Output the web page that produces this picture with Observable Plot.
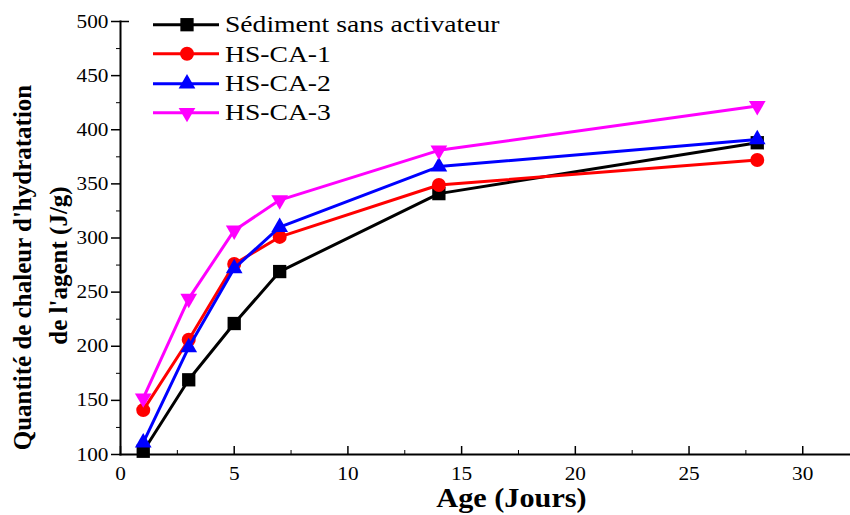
<!DOCTYPE html>
<html>
<head>
<meta charset="utf-8">
<script src="https://cdn.jsdelivr.net/npm/d3@7"></script>
<script src="https://cdn.jsdelivr.net/npm/@observablehq/plot@0.6"></script>
<style>
  body { margin: 0; background: #fff; }
  #wrap { position: relative; width: 850px; height: 515px; font-family: "Liberation Serif", "Times New Roman", Times, "DejaVu Serif", serif; color: #000; }
  #legend { position: absolute; left: 153px; top: 10px; }
  .row { display: flex; align-items: center; height: 29.4px; }
  .row span { font-family: "Liberation Serif", "Times New Roman", Times, "DejaVu Serif", serif; font-weight: normal; font-size: 24px; margin-left: 6px; display: inline-block; transform: scaleX(1.15); transform-origin: left center; white-space: nowrap; }
</style>
</head>
<body>
<div id="wrap"><div id="legend"></div></div>
<script>
// ---- data ----
const ages = [1, 3, 5, 7, 14, 28];
const seriesNames = ["Sédiment sans activateur", "HS-CA-1", "HS-CA-2", "HS-CA-3"];
const sansActivateur = [103, 169, 221, 269, 341, 388];
const hsca1 = [141, 206, 276, 301, 349, 372];
const hsca2 = [111, 199, 272, 310, 366, 391];
const hsca3 = [152, 244, 307, 335, 381, 422];
const xTicks = [0, 5, 10, 15, 20, 25, 30];
const xMinor = [2.5, 7.5, 12.5, 17.5, 22.5, 27.5];
const yTicks = [100, 150, 200, 250, 300, 350, 400, 450, 500];
const yMinor = [125, 175, 225, 275, 325, 375, 425, 475];
const xTitle = "Age (Jours)";
const yTitle1 = "Quantité de chaleur d'hydratation";
const yTitle2 = "de l'agent (J/g)";

// ---- styles ----
const serif = "'Liberation Serif', 'Times New Roman', Times, 'DejaVu Serif', serif";
const colors = ["#000000", "#ff0000", "#0000ff", "#ff00ff"];
const triangleDown = {
  draw(context, size) {
    const y = -Math.sqrt(size / (Math.sqrt(3) * 3));
    context.moveTo(0, -y * 2);
    context.lineTo(-Math.sqrt(3) * y, y);
    context.lineTo(Math.sqrt(3) * y, y);
    context.closePath();
  }
};
const symbols = ["square", "circle", "triangle", triangleDown];
const d3Symbols = [d3.symbolSquare, d3.symbolCircle, d3.symbolTriangle, triangleDown];
const radii = [7.5, 7, 6.2, 6.2];

const allValues = [sansActivateur, hsca1, hsca2, hsca3];
const table = seriesNames.flatMap((name, s) =>
  ages.map((a, i) => ({ series: name, age: a, value: allValues[s][i] }))
);

const seriesMarks = seriesNames.flatMap((name, s) => {
  const d = table.filter(r => r.series === name);
  return [
    Plot.line(d, { x: "age", y: "value", stroke: colors[s], strokeWidth: 3 }),
    Plot.dot(d, { x: "age", y: "value", fill: colors[s], stroke: "none", symbol: symbols[s], r: radii[s] })
  ];
});

const chart = Plot.plot({
  width: 850,
  height: 515,
  marginLeft: 120,
  marginRight: 0,
  marginTop: 21,
  marginBottom: 61,
  style: { fontFamily: serif, fontSize: "19px", color: "#000", background: "#fff", overflow: "visible" },
  x: { domain: [0, 32.1], label: null },
  y: { domain: [100, 500], label: null },
  marks: [
    Plot.axisX({ ticks: xTicks, tickSize: -8, tickPadding: 20, fontSize: 19, strokeWidth: 1.5, label: null }),
    Plot.axisX({ ticks: xMinor, tickSize: -4, tickFormat: () => "", label: null }),
    Plot.axisY({ ticks: yTicks, tickSize: 9, tickPadding: 3, fontSize: 19, strokeWidth: 1.5, label: null }),
    Plot.axisY({ ticks: yMinor, tickSize: 4, tickFormat: () => "", label: null }),
    Plot.axisY({ ticks: [500], tickSize: -9, tickFormat: () => "", strokeWidth: 1.5, label: null }),
    Plot.frame({ anchor: "left", strokeWidth: 2 }),
    Plot.frame({ anchor: "bottom", strokeWidth: 2 }),
    ...seriesMarks,
    Plot.text([yTitle1], { frameAnchor: "left", textAnchor: "middle", dx: -98, dy: 29.5, rotate: -90, fontWeight: "bold", fontSize: 25, text: d => d }),
    Plot.text([yTitle2], { frameAnchor: "left", textAnchor: "middle", dx: -62, dy: 27.5, rotate: -90, fontWeight: "bold", fontSize: 25, text: d => d }),
    Plot.text([xTitle], { frameAnchor: "bottom", textAnchor: "middle", dx: 26, dy: 52, fontWeight: "bold", fontSize: 27, text: d => d })
  ]
});

d3.select(chart).selectAll("text").attr("font-family", serif);

// horizontal stretch of tick labels like the reference
d3.select(chart).selectAll("g[aria-label$='tick label'] text").each(function () {
  const t = this.getAttribute("transform") || "";
  this.setAttribute("transform", t + " scale(1.12,1)");
});
d3.select(chart).selectAll("g[aria-label='text'] text").each(function () {
  const t = this.getAttribute("transform") || "";
  if (!/rotate/.test(t)) this.setAttribute("transform", t + " scale(1.12,1)");
});

document.getElementById("wrap").prepend(chart);
chart.style.position = "absolute";
chart.style.left = "0";
chart.style.top = "0";

// legend
const legend = d3.select("#legend");
seriesNames.forEach((name, s) => {
  const row = legend.append("div").attr("class", "row");
  const svg = row.append("svg").attr("width", 66).attr("height", 29.4);
  svg.append("line").attr("x1", 0).attr("x2", 66).attr("y1", 14.7).attr("y2", 14.7)
    .attr("stroke", colors[s]).attr("stroke-width", 3);
  svg.append("path").attr("transform", "translate(34,14.7)")
    .attr("d", d3.symbol(d3Symbols[s], radii[s] * radii[s] * Math.PI)())
    .attr("fill", colors[s]);
  row.append("span").text(name);
});
</script>
</body>
</html>
